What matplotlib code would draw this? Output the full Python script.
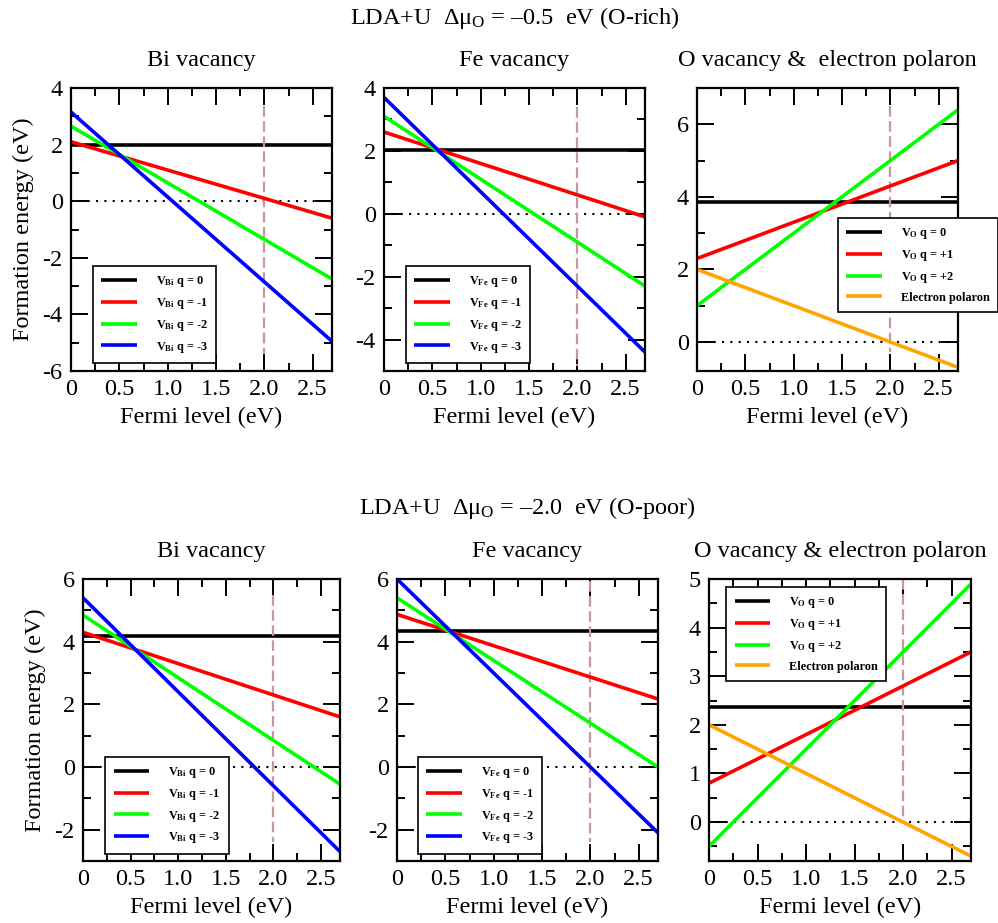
import matplotlib
matplotlib.use('Agg')
import matplotlib.pyplot as plt
from matplotlib.ticker import MultipleLocator

plt.rcParams['font.family'] = ['Liberation Serif', 'DejaVu Serif']
plt.rcParams['mathtext.fontset'] = 'custom'
plt.rcParams['mathtext.rm'] = 'Liberation Serif'
plt.rcParams['mathtext.it'] = 'Liberation Serif:italic'
plt.rcParams['mathtext.bf'] = 'Liberation Serif:bold'
plt.rcParams['axes.unicode_minus'] = False

# Fermi level range (eV), lines are drawn between the two ends
fermi = [0.0, 2.7]

# formation energies at Ef = 0 and at Ef = 2.7 (eV), O-rich
bi_rich_start = [1.97, 2.1, 2.65, 3.15]
bi_rich_end = [1.97, -0.6, -2.75, -4.95]
fe_rich_start = [2.03, 2.6, 3.1, 3.7]
fe_rich_end = [2.03, -0.1, -2.3, -4.4]
o_rich_start = [3.85, 2.3, 1.0, 2.0]
o_rich_end = [3.85, 5.0, 6.4, -0.7]

# O-poor
bi_poor_start = [4.18, 4.3, 4.85, 5.4]
bi_poor_end = [4.18, 1.6, -0.55, -2.7]
fe_poor_start = [4.33, 4.87, 5.4, 6.0]
fe_poor_end = [4.33, 2.17, 0.0, -2.1]
o_poor_start = [2.36, 0.8, -0.5, 2.0]
o_poor_end = [2.36, 3.5, 4.9, -0.7]

bi_labels = [r'V$_{\mathbf{Bi}}$ q = 0', r'V$_{\mathbf{Bi}}$ q = -1',
             r'V$_{\mathbf{Bi}}$ q = -2', r'V$_{\mathbf{Bi}}$ q = -3']
fe_labels = [r'V$_{\mathbf{Fe}}$ q = 0', r'V$_{\mathbf{Fe}}$ q = -1',
             r'V$_{\mathbf{Fe}}$ q = -2', r'V$_{\mathbf{Fe}}$ q = -3']
o_labels = [r'V$_{\mathbf{O}}$ q = 0', r'V$_{\mathbf{O}}$ q = +1',
            r'V$_{\mathbf{O}}$ q = +2', 'Electron polaron']

vac_colors = ['#000000', '#ff0000', '#00ff00', '#0000ff']
o_colors = ['#000000', '#ff0000', '#00ff00', '#ffa500']

xtick_vals = [0, 0.5, 1.0, 1.5, 2.0, 2.5]
xtick_labels = ['0', '0.5', '1.0', '1.5', '2.0', '2.5']

FS = 17.5


def draw_panel(ax, starts, ends, labels, colors, title, ylim, ymajor, yminor,
               vline, leg_loc, leg_anchor, ylabel=False):
    ax.axhline(0, color='black', lw=1.5, ls=(0, (1, 3)), zorder=1.5)
    for i, (s, e, lab, c) in enumerate(zip(starts, ends, labels, colors)):
        # neutral line sits under the gap marker, charged ones above it
        z = 2 if i == 0 else 2.5
        ax.plot(fermi, [s, e], color=c, lw=2.6, label=lab,
                solid_capstyle='butt', zorder=z)
    # band gap marker at 2.0 eV
    ax.plot([2.0, 2.0], vline, color='#c49a9a', lw=1.6, ls=(0, (4.8, 2.0)), zorder=2.2)

    ax.set_xlim(0, 2.7)
    ax.set_ylim(*ylim)
    ax.set_xticks(xtick_vals)
    ax.set_xticklabels(xtick_labels)
    ax.xaxis.set_minor_locator(MultipleLocator(0.25))
    ax.yaxis.set_major_locator(MultipleLocator(ymajor))
    ax.yaxis.set_minor_locator(MultipleLocator(yminor))
    ax.tick_params(which='both', direction='in', top=True, right=True, width=1.4)
    ax.tick_params(which='major', length=12, labelsize=FS, pad=6)
    ax.tick_params(which='minor', length=6)
    for sp in ax.spines.values():
        sp.set_linewidth(1.6)

    ax.set_title(title, fontsize=FS, pad=16)
    ax.set_xlabel('Fermi level (eV)', fontsize=FS, labelpad=5)
    if ylabel:
        ax.set_ylabel('Formation energy (eV)', fontsize=FS, labelpad=6)

    leg = ax.legend(loc=leg_loc, bbox_to_anchor=leg_anchor, borderaxespad=0,
                    fancybox=False, edgecolor='black', framealpha=1,
                    prop={'weight': 'bold', 'size': 8.8}, handlelength=2.9,
                    handletextpad=1.55, labelspacing=0.55, borderpad=0.7)
    leg.get_frame().set_linewidth(1.2)


fig = plt.figure(figsize=(9.98, 9.23), dpi=100)

W, H = 998.0, 923.0


def add_axes(left, top, right, bottom):
    return fig.add_axes([left / W, 1 - bottom / H, (right - left) / W, (bottom - top) / H])


ax1 = add_axes(71, 88, 332, 371)
ax2 = add_axes(384, 88, 645, 371)
ax3 = add_axes(697, 88, 958, 371)
ax4 = add_axes(83, 579, 340, 861)
ax5 = add_axes(397, 579, 658, 861)
ax6 = add_axes(709, 579, 971, 861)

draw_panel(ax1, bi_rich_start, bi_rich_end, bi_labels, vac_colors, 'Bi vacancy',
           (-6, 4), 2, 1, [3.35, -5.4], 'lower left', (0.084, 0.028), ylabel=True)
draw_panel(ax2, fe_rich_start, fe_rich_end, fe_labels, vac_colors, 'Fe vacancy',
           (-5, 4), 2, 1, [3.4, -4.85], 'lower left', (0.084, 0.028))
draw_panel(ax3, o_rich_start, o_rich_end, o_labels, o_colors,
           'O vacancy &  electron polaron',
           (-0.8, 7), 2, 1, [6.5, -0.28], 'lower left', (0.54, 0.208))
draw_panel(ax4, bi_poor_start, bi_poor_end, bi_labels, vac_colors, 'Bi vacancy',
           (-3, 6), 2, 1, [5.48, -2.4], 'lower left', (0.086, 0.025), ylabel=True)
draw_panel(ax5, fe_poor_start, fe_poor_end, fe_labels, vac_colors, 'Fe vacancy',
           (-3, 6), 2, 1, [5.95, -2.4], 'lower left', (0.08, 0.025))
draw_panel(ax6, o_poor_start, o_poor_end, o_labels, o_colors,
           'O vacancy & electron polaron',
           (-0.8, 5), 1, 0.5, [5.0, -0.02], 'upper left', (0.065, 0.972))

fig.text(515 / W, 1 - 24 / H, r'LDA+U  $\Delta$μ$_{\mathregular{O}}$ = –0.5  eV (O-rich)',
         fontsize=FS, ha='center', va='baseline')
fig.text(527 / W, 1 - 514 / H, r'LDA+U  $\Delta$μ$_{\mathregular{O}}$ = –2.0  eV (O-poor)',
         fontsize=FS, ha='center', va='baseline')

fig.savefig('out.png', dpi=100)
